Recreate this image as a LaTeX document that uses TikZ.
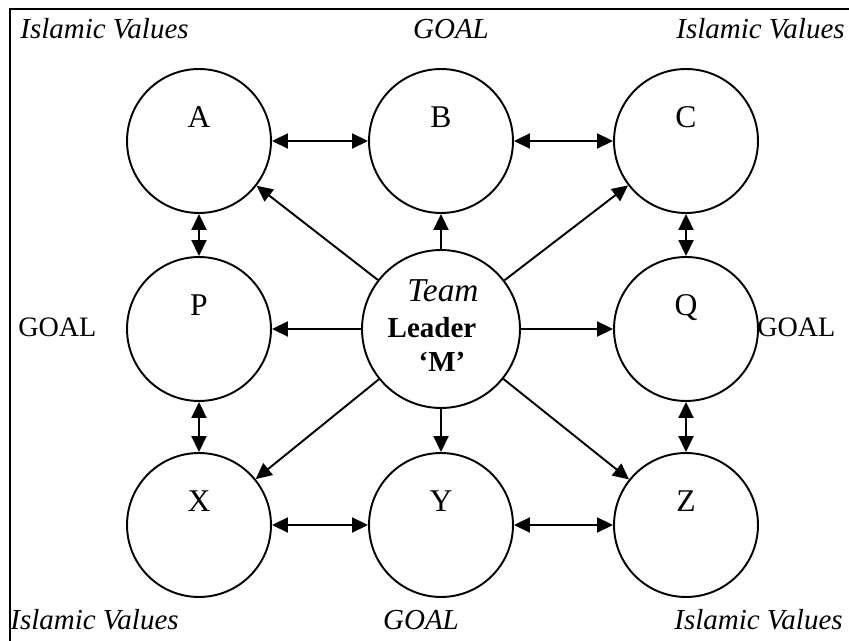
\documentclass[tikz,border=0pt]{standalone}
\usepackage{fontspec}
\setmainfont{Liberation Serif}
\usetikzlibrary{arrows.meta}
\begin{document}
\begin{tikzpicture}[x=0.02cm, y=-0.02cm]
	% Define styles
	\tikzstyle{member} = [circle, draw=black, line width=1.1pt, minimum size=2.88cm, inner sep=0pt, text height=0.45cm, text depth=0.97cm, font=\fontsize{18}{21}\selectfont]
	\tikzstyle{leader} = [circle, draw=black, line width=1.1pt, minimum size=3.16cm, inner sep=0pt]
	\tikzstyle{corner} = [inner sep=0pt, anchor=base, font=\fontsize{16.5}{20}\selectfont\itshape]
	\tikzstyle{side} = [inner sep=0pt, anchor=base west, font=\fontsize{16}{19}\selectfont]
	\tikzstyle{arrow} = [line width=1.1pt, -{Triangle[length=0.32cm, width=0.3cm]}]
	\tikzstyle{link} = [line width=1.1pt, {Triangle[length=0.32cm, width=0.3cm]}-{Triangle[length=0.32cm, width=0.3cm]}]

	\useasboundingbox (0,0) rectangle (849,641);

	% Frame
	\draw [line width=1.6pt] (10,680) -- (10,9) -- (880,9);

	% Corner and side texts
	\node (ivtopleft) [corner, anchor=base west] at (20,39) {Islamic Values};
	\node (goaltop) [corner] at (451,39) {GOAL};
	\node (ivtopright) [corner, anchor=base east] at (845,39) {Islamic Values};
	\node (goalleft) [side] at (18,337) {GOAL};
	\node (goalright) [side] at (757,337) {GOAL};
	\node (ivbotleft) [corner, anchor=base west] at (10,630) {Islamic Values};
	\node (goalbot) [corner] at (421,630) {GOAL};
	\node (ivbotright) [corner, anchor=base east] at (843,630) {Islamic Values};

	% Nodes
	\node (A) [member] at (199,141) {A};
	\node (B) [member] at (441,141) {B};
	\node (C) [member] at (686,141) {C};
	\node (P) [member] at (199,329) {P};
	\node (M) [leader] at (441,329) {};
	\node (Q) [member] at (686,329) {Q};
	\node (X) [member] at (199,525) {X};
	\node (Y) [member] at (441,525) {Y};
	\node (Z) [member] at (686,525) {Z};

	\node (team) [inner sep=0pt, anchor=base, font=\fontsize{19}{22}\selectfont\itshape] at (443,302) {Team};
	\node (leadername) [inner sep=0pt, anchor=base, font=\fontsize{16.5}{19}\selectfont\bfseries] at (432,338) {Leader};
	\node (mname) [inner sep=0pt, anchor=base, font=\fontsize{16.5}{19}\selectfont\bfseries] at (442,372) {‘M’};

	% Arrows
	\draw [link] (A) -- (B);
	\draw [link] (B) -- (C);
	\draw [link] (A) -- (P);
	\draw [link] (C) -- (Q);
	\draw [link] (P) -- (X);
	\draw [link] (Q) -- (Z);
	\draw [link] (X) -- (Y);
	\draw [link] (Y) -- (Z);

	\draw [arrow] (M) -- (A);
	\draw [arrow] (M) -- (B);
	\draw [arrow] (M) -- (C);
	\draw [arrow] (M) -- (P);
	\draw [arrow] (M) -- (Q);
	\draw [arrow] (M) -- (X);
	\draw [arrow] (M) -- (Y);
	\draw [arrow] (M) -- (Z);
\end{tikzpicture}
\end{document}
